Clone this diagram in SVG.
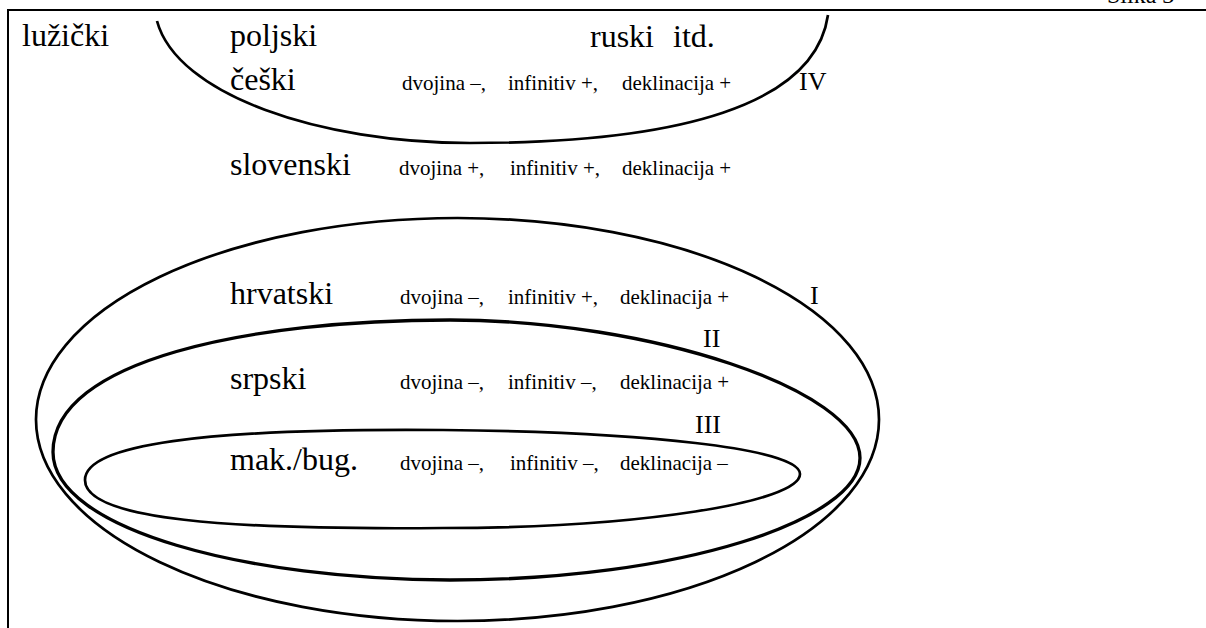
<svg xmlns="http://www.w3.org/2000/svg" width="1206" height="628" viewBox="0 0 1206 628">
<style>
text{font-family:'Liberation Serif','Times New Roman',Tinos,Times,'DejaVu Serif','Noto Serif',serif;fill:#000}
.big{font-size:32px}
.small{font-size:21px}
.roman{font-size:26px}
.ring{fill:none;stroke:#000;stroke-width:2.7}
.ring2{fill:none;stroke:#000;stroke-width:3.3}
.frame{stroke:#000;stroke-width:2;fill:none}
</style>
<rect width="1206" height="628" fill="#fff"/>
<g font-family="Liberation Serif, Times New Roman, serif">
<g id="frame">
<path class="frame" d="M8,628 V10 H1206"/>
<text x="1107" y="3" style="font-size:24px">Slika 3</text>
</g>
<g id="connectors">
<path id="group-IV" class="ring" d="M157,21 C177,95 320,143 470,143 C680,143 815,105 828,15"/>
<ellipse id="group-I" class="ring" cx="457.5" cy="419.5" rx="421.5" ry="201.5"/>
<path id="group-II" class="ring2" d="M53,452 C53,360 250,320 450,320 C650,320 860,390 860,458 C860,520 680,580 450,580 C250,580 53,530 53,452 Z"/>
<path id="group-III" class="ring" d="M85,480 C85,445 200,428 443,430 C640,432 800,448 800,474 C800,502 640,528 443,528 C230,530 85,520 85,480 Z"/>
</g>
<g id="lab-IV"><text class="roman" x="799" y="90">IV</text></g>
<g id="lab-I"><text class="roman" x="810" y="304">I</text></g>
<g id="lab-II"><text class="roman" x="703" y="347">II</text></g>
<g id="lab-III"><text class="roman" x="695" y="433">III</text></g>
<g id="luzicki"><text class="big" x="22" y="46">lužički</text></g>
<g id="poljski"><text class="big" x="230" y="46">poljski</text></g>
<g id="ruski"><text class="big" x="590" y="47">ruski</text><text class="big" x="673" y="47">itd.</text></g>
<g id="ceski">
<text class="big" x="230" y="90">češki</text>
<text class="small" x="402" y="90">dvojina –,</text>
<text class="small" x="508" y="90">infinitiv +,</text>
<text class="small" x="622" y="90">deklinacija +</text>
</g>
<g id="slovenski">
<text class="big" x="230" y="175">slovenski</text>
<text class="small" x="399" y="175">dvojina +,</text>
<text class="small" x="510" y="175">infinitiv +,</text>
<text class="small" x="622" y="175">deklinacija +</text>
</g>
<g id="hrvatski">
<text class="big" x="230" y="304">hrvatski</text>
<text class="small" x="400" y="304">dvojina –,</text>
<text class="small" x="508" y="304">infinitiv +,</text>
<text class="small" x="620" y="304">deklinacija +</text>
</g>
<g id="srpski">
<text class="big" x="230" y="389">srpski</text>
<text class="small" x="400" y="389">dvojina –,</text>
<text class="small" x="508" y="389">infinitiv –,</text>
<text class="small" x="620" y="389">deklinacija +</text>
</g>
<g id="makbug">
<text class="big" x="230" y="470">mak./bug.</text>
<text class="small" x="400" y="470">dvojina –,</text>
<text class="small" x="510" y="470">infinitiv –,</text>
<text class="small" x="620" y="470">deklinacija –</text>
</g>
</g>
</svg>
